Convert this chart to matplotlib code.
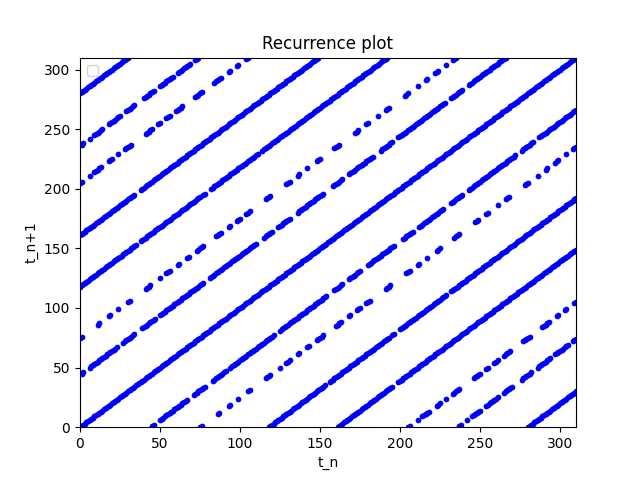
import numpy as np
import matplotlib.pyplot as plt

# lag (distance from main diagonal) and runs of recurrent index i (inclusive)
lags = [0, 44, 75, 118, 161, 205, 236, 280]

runs_0 = [(0, 310)]
runs_44 = [(1, 2), (6, 23), (27, 34), (39, 47), (50, 77), (81, 110), (115, 120),
           (124, 131), (136, 152), (158, 164), (168, 183), (188, 195), (199, 228),
           (232, 239), (243, 266)]
runs_75 = [(0, 1), (11, 12), (18, 19), (24, 24), (30, 31), (41, 44), (50, 50),
           (54, 56), (61, 62), (67, 68), (73, 77), (85, 88), (93, 94), (98, 100),
           (104, 106), (116, 119), (129, 131), (136, 137), (142, 142), (148, 150),
           (159, 162), (172, 174), (179, 180), (186, 186), (191, 193), (203, 205),
           (211, 211), (216, 217), (222, 224), (229, 229), (233, 235)]
runs_118 = [(0, 35), (38, 75), (77, 78), (82, 111), (114, 192)]
runs_161 = [(0, 34), (38, 149)]
runs_205 = [(0, 1), (6, 6), (9, 13), (18, 20), (24, 24), (28, 32), (41, 45),
            (49, 50), (54, 56), (60, 64), (72, 76), (84, 88), (93, 94), (98, 99),
            (104, 105)]
runs_236 = [(1, 2), (6, 6), (9, 14), (18, 25), (29, 34), (40, 46), (50, 58),
            (61, 69), (72, 74)]
runs_280 = [(0, 30)]

runs = [runs_0, runs_44, runs_75, runs_118, runs_161, runs_205, runs_236, runs_280]

xs = []
ys = []
for lag, segs in zip(lags, runs):
    for a, b in segs:
        i = np.arange(a, b + 1)
        xs.append(i)
        ys.append(i + lag)
        if lag:  # recurrence matrix is symmetric
            xs.append(i + lag)
            ys.append(i)
x = np.concatenate(xs)
y = np.concatenate(ys)

plt.figure(figsize=(6.4, 4.8), dpi=100)
plt.scatter(x, y, s=17, c='blue', marker='o', linewidths=0)
plt.xlim(0, 310)
plt.ylim(0, 310)
plt.title('Recurrence plot')
plt.xlabel('t_n')
plt.ylabel('t_n+1')
plt.legend(loc='upper left')
plt.savefig('out.png')
